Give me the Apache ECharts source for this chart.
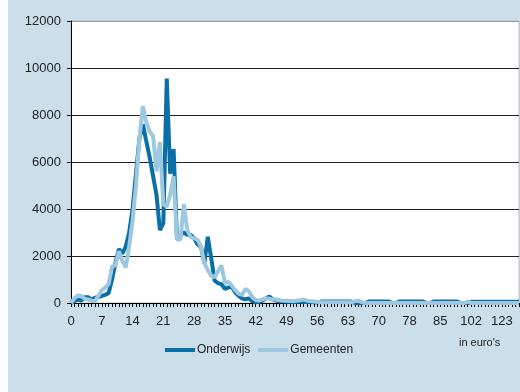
<!DOCTYPE html>
<html>
<head>
<meta charset="utf-8">
<script src="https://cdn.jsdelivr.net/npm/echarts/dist/echarts.min.js"></script>
<style>
  body { margin: 0; background: #fff; }
  #chart { position: absolute; left: 8px; top: 0; width: 512px; height: 392px; background: #cbdfea; }
</style>
</head>
<body>
<div id="chart"></div>
<script>
// tick labels shown every 9th category
const tickLabels = ["0", "7", "14", "21", "28", "35", "42", "49", "56", "63", "70", "78", "85", "102", "123"];
const labelStep = 9;

const onderwijs = [
  0, 80, 150, 100, 250, 250, 150, 220, 250, 300,
  350, 420, 1000, 1700, 2300, 2100, 2400, 3000, 4000, 5500,
  7000, 7600, 6900, 6200, 5400, 4600, 3100, 3400, 9550, 5500,
  6550, 2700, 2900, 3000, 2900, 2900, 2750, 2500, 2400, 1700,
  2820, 1900, 950, 850, 800, 600, 650, 700, 450, 300,
  200, 150, 200, 80, 30, 50, 100, 200, 280, 150,
  100, 60, 80, 50, 60, 40, 50, 60, 40, 50,
  40, 30, 20, 60, 60, 60, 60, 60, 60, 60,
  60, 60, 60, 0, 0, 0, 0, 60, 60, 60,
  60, 60, 60, 60, 0, 0, 60, 60, 60, 60,
  60, 60, 60, 60, 0, 0, 60, 60, 60, 60,
  60, 60, 60, 60, 0, 0, 0, 50, 50, 50,
  50, 50, 50, 50, 50, 50, 50, 50, 50, 50,
  50, 50
];

const gemeenten = [
  0, 200, 330, 300, 180, 150, 100, 80, 300, 550,
  650, 800, 1550, 1600, 2200, 1800, 1500, 2400, 3500, 5000,
  7000, 8380, 7700, 7300, 7100, 5600, 6850, 4200, 4100, 4600,
  5400, 2700, 2700, 4200, 3100, 2800, 2750, 2700, 2400, 1700,
  1400, 1150, 1100, 1350, 1600, 850, 900, 750, 550, 400,
  350, 600, 500, 250, 130, 100, 150, 200, 180, 150,
  150, 120, 100, 100, 90, 80, 100, 120, 150, 100,
  80, 60, 50, 30, 30, 30, 30, 30, 30, 30,
  30, 30, 30, 80, 100, 40, 0, 0, 0, 0,
  0, 0, 0, 0, 0, 0, 0, 0, 0, 0,
  0, 0, 0, 0, 0, 0, 0, 0, 0, 0,
  0, 0, 0, 0, 0, 0, 60, 0, 0, 0,
  0, 0, 0, 0, 0, 0, 0, 0, 0, 0,
  0, 0
];

const categories = onderwijs.map(function (v, i) {
  return i % labelStep === 0 && tickLabels[i / labelStep] !== undefined ? tickLabels[i / labelStep] : "";
});

const font = "Liberation Sans, Arial, sans-serif";
let myChart = echarts.init(document.getElementById("chart"));
myChart.setOption({
  animation: false,
  textStyle: { fontFamily: font },
  grid: {
    left: 63, right: 1, top: 21, bottom: 89,
    show: true, backgroundColor: "#fff", borderColor: "#bbb", borderWidth: 1
  },
  legend: {
    left: 152, top: 339,
    icon: "rect", itemWidth: 30, itemHeight: 4, itemGap: 8,
    textStyle: { fontFamily: font, fontSize: 12, color: "#222", padding: [0, 0, 0, -3] },
    data: ["Onderwijs", "Gemeenten"]
  },
  graphic: [{
    type: "text", left: 451, top: 337,
    style: { text: "in euro's", fontFamily: font, fontSize: 11, fill: "#222" }
  }],
  xAxis: {
    type: "category",
    data: categories,
    boundaryGap: false,
    axisLine: { lineStyle: { color: "#000", width: 1 } },
    axisTick: { show: true, interval: 0, length: 4, lineStyle: { color: "#000" } },
    axisLabel: { interval: labelStep - 1, margin: 12, fontSize: 13, color: "#222", fontFamily: font }
  },
  yAxis: {
    type: "value",
    min: 0, max: 12000, interval: 2000,
    axisLine: { show: true, lineStyle: { color: "#000", width: 1 } },
    axisTick: { show: true, length: 4, lineStyle: { color: "#000" } },
    axisLabel: {
      margin: 10, fontSize: 13, color: "#222", fontFamily: font,
      formatter: function (v) { return String(v); }
    },
    splitLine: { lineStyle: { color: ["#222", "#222", "#222", "#222", "#222", "#222", "#999"], width: 1 } }
  },
  series: [
    {
      name: "Onderwijs", type: "line", data: onderwijs,
      symbol: "none", color: "#0a6fa6",
      lineStyle: { width: 4, color: "#0a6fa6" }
    },
    {
      name: "Gemeenten", type: "line", data: gemeenten,
      symbol: "none", color: "#9dc8e0",
      lineStyle: { width: 4, color: "#9dc8e0" }
    }
  ]
});
</script>
</body>
</html>
